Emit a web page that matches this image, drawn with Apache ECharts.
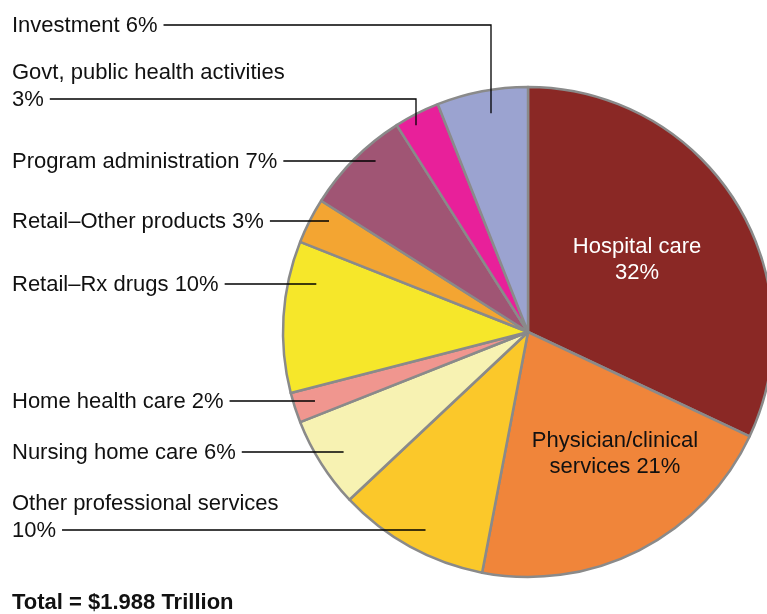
<!DOCTYPE html>
<html><head><meta charset="utf-8">
<script src="https://cdn.jsdelivr.net/npm/echarts@6/dist/echarts.min.js"></script>
<style>html,body{margin:0;padding:0;background:#fff}#c{width:767px;height:614px}</style>
</head><body><div id="c"></div>
<script>
// ---- data ----
const categories = ['Hospital care','Physician/clinical services','Other professional services','Nursing home care','Home health care','Retail–Rx drugs','Retail–Other products','Program administration','Govt, public health activities','Investment'];
const shares = [32, 21, 10, 6, 2, 10, 3, 7, 3, 6];
const labelTexts = ['Hospital care\n32%','Physician/clinical\nservices 21%','Other professional services\n10%','Nursing home care 6%','Home health care 2%','Retail–Rx drugs 10%','Retail–Other products 3%','Program administration 7%','Govt, public health activities\n3%','Investment 6%'];
const sliceColors = ['#8a2825','#f0853a','#fbc82a','#f7f2b2','#f0968f','#f6e72a','#f3a532','#a05574','#e8209a','#9ba3d0'];
const totalLabel = 'Total = $1.988 Trillion';

// ---- layout (positions only) ----
const CX = 528, CY = 332, R = 245;
const FONT = '"Liberation Sans", Arial, Helvetica, sans-serif';
const FS = 22, LH = 27;
const annot = [
  {inside: true, x: 637, y: 260, color: '#ffffff'},
  {inside: true, x: 615, y: 454, color: '#111111'},
  {lineY: 530, f: 0.91},
  {lineY: 452, f: 0.898},
  {lineY: 401, f: 0.914},
  {lineY: 284, f: 0.886},
  {lineY: 221, f: 0.93},
  {lineY: 161, f: 0.935},
  {lineY: 99, f: 0.96, elbowX: 416},
  {lineY: 25, f: 0.906, elbowX: 491}
];
const mctx = document.createElement('canvas').getContext('2d');
mctx.font = FS + 'px ' + FONT;

const sliceData = categories.map((name, i) => ({name: name, value: shares[i], itemStyle: {color: sliceColors[i]}}));
const labelData = categories.map((name, i) => {
  const a = annot[i];
  const item = {name: name, value: shares[i]};
  if (a.inside) {
    item.label = {position: 'inside', color: a.color, lineHeight: 26};
    item.labelLine = {show: false};
  }
  return item;
});

const chart = echarts.init(document.getElementById('c'), null, {renderer: 'canvas'});
chart.setOption({
  animation: false,
  backgroundColor: '#ffffff',
  title: {
    text: totalLabel, left: 12, top: 592, padding: 0,
    textStyle: {fontFamily: FONT, fontSize: 22, fontWeight: 'bold', color: '#111111'}
  },
  series: [{
    type: 'pie',
    z: 2,
    center: [CX, CY],
    radius: [0, R],
    startAngle: 90,
    clockwise: true,
    data: sliceData,
    itemStyle: {borderColor: '#8a8a8a', borderWidth: 2.5},
    emphasis: {disabled: true},
    label: {show: false},
    labelLine: {show: false}
  }, {
    type: 'pie',
    z: 4,
    silent: true,
    center: [CX, CY],
    radius: [0, R],
    startAngle: 90,
    clockwise: true,
    avoidLabelOverlap: false,
    data: labelData,
    itemStyle: {color: 'rgba(0,0,0,0)', borderWidth: 0},
    emphasis: {disabled: true},
    label: {
      show: true,
      position: 'outside',
      fontFamily: FONT, fontSize: FS, lineHeight: LH, color: '#111111',
      formatter: p => labelTexts[p.dataIndex]
    },
    labelLine: {show: true, showAbove: true, smooth: false, lineStyle: {color: '#000000', width: 1.3}},
    labelLayout: function (p) {
      const i = p.dataIndex, a = annot[i];
      if (a.inside) return {x: a.x, y: a.y, align: 'center', verticalAlign: 'middle'};
      const lines = labelTexts[i].split('\n');
      const w = mctx.measureText(lines[lines.length - 1]).width;
      const x0 = 12 + w + 6;
      const ly = a.lineY;
      const rr = a.f * R;
      let pts;
      if (a.elbowX != null) {
        const dx = a.elbowX - CX;
        const ey = CY - Math.sqrt(rr * rr - dx * dx);
        pts = [[x0, ly], [a.elbowX, ly], [a.elbowX, ey]];
      } else {
        const dy = ly - CY;
        const ex = CX - Math.sqrt(rr * rr - dy * dy);
        pts = [[x0, ly], [ex, ly], [ex, ly]];
      }
      return {x: 12, y: ly + 1 - (lines.length - 1) * LH / 2, align: 'left', verticalAlign: 'middle', labelLinePoints: pts};
    }
  }]
});
</script>
</body></html>
